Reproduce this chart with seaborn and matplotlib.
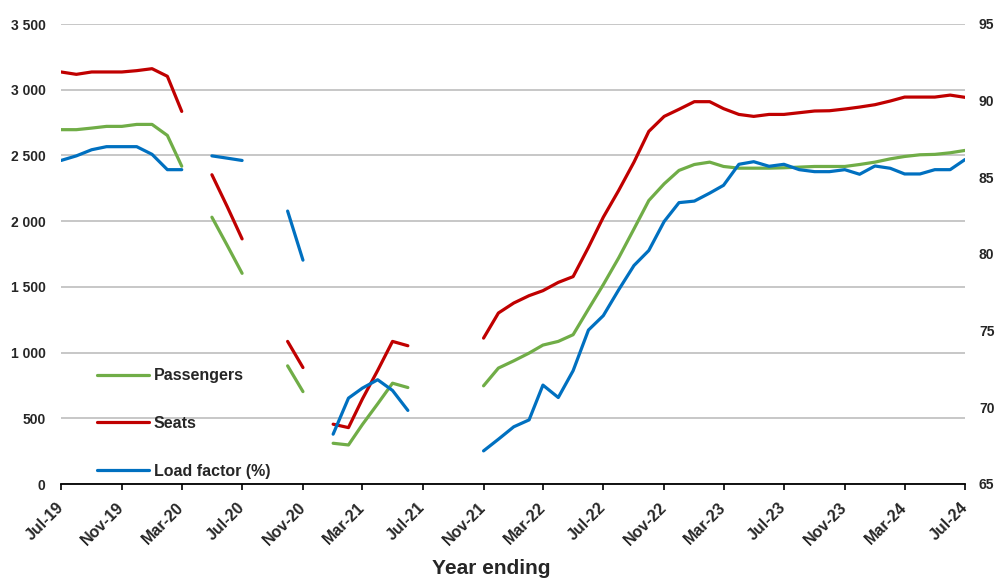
import numpy as np
import pandas as pd
import matplotlib
matplotlib.use("Agg")
import matplotlib.pyplot as plt
import matplotlib.dates as mdates
from matplotlib.lines import Line2D
from matplotlib.ticker import FuncFormatter, MultipleLocator
import seaborn as sns

nan = np.nan

# monthly, year ending Jul-19 .. Jul-24 (gaps = no data)
months = pd.date_range("2019-07-01", "2024-07-01", freq="MS")

passengers = [2696, 2696, 2708, 2721, 2721, 2736, 2736, 2652, 2418, nan,
              2030, 1815, 1603, nan, nan, 899, 703, nan,
              310, 297, 452, 610, 767, 734, nan, nan, nan, nan,
              747, 882, 937, 996, 1057, 1085, 1136, 1331, 1517, 1720,
              1941, 2157, 2284, 2386, 2431, 2449, 2416, 2403, 2403, 2403,
              2406, 2411, 2416, 2416, 2416, 2431, 2449, 2474, 2492, 2505,
              2508, 2520, 2538]

seats = [3135, 3117, 3135, 3135, 3135, 3145, 3160, 3102, 2835, nan,
         2353, 2110, 1865, nan, nan, 1085, 886, nan,
         455, 429, 646, 864, 1085, 1052, nan, nan, nan, nan,
         1110, 1301, 1377, 1433, 1471, 1534, 1578, 1801, 2030, 2233,
         2449, 2683, 2797, 2851, 2909, 2909, 2856, 2812, 2797, 2812,
         2812, 2825, 2838, 2840, 2853, 2868, 2886, 2914, 2944, 2944,
         2944, 2959, 2942]

load_factor = [86.1, 86.4, 86.8, 87.0, 87.0, 87.0, 86.5, 85.5, 85.5, nan,
               86.4, 86.25, 86.1, nan, nan, 82.8, 79.6, nan,
               68.25, 70.6, 71.25, 71.8, 71.1, 69.8, nan, nan, nan, nan,
               67.16, 67.92, 68.73, 69.18, 71.45, 70.64, 72.39, 75.04, 75.98, 77.66,
               79.25, 80.23, 82.12, 83.35, 83.45, 83.97, 84.48, 85.85, 86.02, 85.72,
               85.85, 85.50, 85.37, 85.37, 85.50, 85.20, 85.74, 85.59, 85.22, 85.22,
               85.50, 85.50, 86.16]

df = pd.DataFrame({"month": months, "Passengers": passengers,
                   "Seats": seats, "Load": load_factor})
# segment id so that lines break at missing months
df["seg"] = df["Seats"].isna().cumsum()

GREEN, RED, BLUE = "#70AD47", "#C00000", "#0070C0"

sns.set_style("white")
plt.rcParams["font.family"] = ["Liberation Sans", "DejaVu Sans"]
plt.rcParams["font.weight"] = "bold"

fig = plt.figure(figsize=(9.98, 5.79), dpi=100)
ax = fig.add_axes([61 / 998, 1 - 484 / 579, 904 / 998, 460 / 579])
ax2 = ax.twinx()

lw = 2.3
sns.lineplot(data=df.dropna(subset=["Passengers"]), x="month", y="Passengers",
             units="seg", estimator=None, color=GREEN, lw=lw, ax=ax)
sns.lineplot(data=df.dropna(subset=["Seats"]), x="month", y="Seats",
             units="seg", estimator=None, color=RED, lw=lw, ax=ax)
sns.lineplot(data=df.dropna(subset=["Load"]), x="month", y="Load",
             units="seg", estimator=None, color=BLUE, lw=lw, ax=ax2)

ax.set_xlim(months[0], months[-1])
ax.set_ylim(0, 3500)
ax2.set_ylim(65, 95)
ax.yaxis.set_major_locator(MultipleLocator(500))
ax2.yaxis.set_major_locator(MultipleLocator(5))
ax.yaxis.set_major_formatter(FuncFormatter(lambda v, p: f"{int(v):,}".replace(",", " ")))

ax.xaxis.set_major_locator(mdates.MonthLocator(bymonth=[3, 7, 11]))
ax.xaxis.set_major_formatter(mdates.DateFormatter("%b-%y"))

ax.grid(axis="y", color="#C3C3C3", lw=1.3)
ax.grid(axis="x", visible=False)
ax2.grid(False)
ax.set_axisbelow(True)

for a in (ax, ax2):
    for s in ("top", "left", "right"):
        a.spines[s].set_visible(False)
ax.spines["bottom"].set_visible(True)
ax.spines["bottom"].set_color("black")
ax.spines["bottom"].set_linewidth(1.3)
ax2.spines["bottom"].set_visible(False)

ax.tick_params(axis="y", length=0, pad=11, labelsize=10)
ax2.tick_params(axis="y", length=0, pad=10, labelsize=10)
ax.tick_params(axis="x", bottom=True, length=4, width=1.2, color="black",
               direction="out", pad=11, labelsize=11.5)
for lab in ax.get_xticklabels():
    lab.set_rotation(45)
    lab.set_ha("right")
    lab.set_va("center")
    lab.set_rotation_mode("anchor")
    lab.set_fontweight("bold")
for lab in ax.get_yticklabels() + ax2.get_yticklabels():
    lab.set_fontweight("bold")

ax.set_xlabel("")
ax.set_ylabel("")
ax2.set_ylabel("")
fig.text(491 / 998, 1 - 569 / 579, "Year ending", ha="center", va="center",
         fontsize=15, fontweight="bold")

handles = [Line2D([], [], color=GREEN, lw=lw),
           Line2D([], [], color=RED, lw=lw),
           Line2D([], [], color=BLUE, lw=lw)]
ax2.legend(handles, ["Passengers", "Seats", "Load factor (%)"],
           loc="lower left", bbox_to_anchor=(0.024, -0.02), frameon=False,
           handlelength=3.25, handletextpad=0.3, labelspacing=2.05,
           prop={"weight": "bold", "size": 11.5})

fig.savefig("out.png", dpi=100)
